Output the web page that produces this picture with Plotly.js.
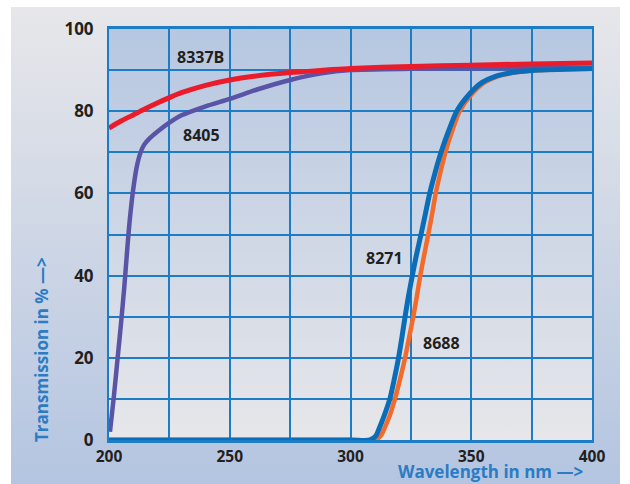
<!DOCTYPE html>
<html>
<head>
<meta charset="utf-8">
<script src="https://cdn.plot.ly/plotly-3.0.1.min.js"></script>
<style>html,body{margin:0;padding:0;background:#fff;}#chart{width:630px;height:484px;}</style>
</head>
<body>
<div id="chart"></div>
<script>
// ---- data ----
const xTickVals = [200, 225, 250, 275, 300, 325, 350, 375, 400];
const xTickText = ['200', '', '250', '', '300', '', '350', '', '400'];
const yTickVals = [0, 10, 20, 30, 40, 50, 60, 70, 80, 90, 100];
const yTickText = ['0', '', '20', '', '40', '', '60', '', '80', '', '100'];

const wl8337B = [200, 205, 210, 215, 220, 225, 230, 240, 250, 260, 275, 290, 300, 325, 350, 375, 400];
const tr8337B = [75.9, 77.6, 79.1, 80.6, 82.0, 83.3, 84.5, 86.3, 87.6, 88.5, 89.4, 90.0, 90.4, 90.9, 91.2, 91.5, 91.7];

const wl8405 = [200.4, 202, 203.5, 205, 206.3, 207.5, 208.5, 209.5, 210.5, 211.5, 212.8, 214.5, 217, 220, 225, 230, 240, 250, 262, 275, 288, 300, 325, 350, 400];
const tr8405 = [2, 10.5, 19.5, 28.5, 37, 46, 53, 58.5, 63, 66.5, 69.5, 71.8, 73.5, 75, 77.2, 79, 81.2, 83, 85.4, 87.6, 89.2, 90, 90.3, 90.4, 90.6];

const wl8271 = [200, 300, 308, 310.5, 312, 314, 316.3, 318.2, 319.9, 321.3, 322.6, 324, 325.6, 327.3, 329.2, 331, 332.8, 335, 337.5, 340.5, 344, 349, 354.5, 360, 367, 378, 400];
const tr8271 = [0, 0, 0, 1, 3, 6, 10, 15, 20, 25, 30, 35, 40, 45, 50, 55, 60, 65, 70, 75, 80, 84, 87, 88.5, 89.4, 90, 90.4];

const wl8688 = [200, 300, 310, 312.5, 314.2, 316.3, 318.4, 320.6, 322.6, 324.3, 326, 327.5, 328.9, 330.5, 332.2, 333.8, 335.3, 337.2, 339.3, 342, 345.2, 350, 355.5, 361, 368, 380, 400];
const tr8688 = [0, 0, 0, 1, 3, 6, 10, 15, 20, 25, 30, 35, 40, 45, 50, 55, 60, 65, 70, 75, 80, 84, 87, 88.5, 89.4, 90, 90.3];

const seriesNames = ['8337B', '8405', '8271', '8688'];
const labelX = [237.7, 238.3, 314.1, 337.6];
const labelY = [93.1, 74.2, 44.2, 23.7];

// ---- layout geometry ----
const W = 630, H = 484;
const M = {l: 109, r: 38, t: 29, b: 44};
const pw = W - M.l - M.r, ph = H - M.t - M.b;
const px2x = p => (p - M.l) / pw;
const py2y = p => (H - M.b - p) / ph;

function grad(top, bottom) {
  const svg = '<svg xmlns="http://www.w3.org/2000/svg" width="100" height="100" viewBox="0 0 100 100" preserveAspectRatio="none">' +
    '<defs><linearGradient id="g" x1="0" y1="0" x2="0" y2="1">' +
    '<stop offset="0" stop-color="' + top + '"/><stop offset="1" stop-color="' + bottom + '"/>' +
    '</linearGradient></defs><rect width="100" height="100" fill="url(#g)"/></svg>';
  return 'data:image/svg+xml;charset=utf-8,' + encodeURIComponent(svg);
}

const gridBlue = '#1c7cc6';
const textDark = '#231f20';
const titleBlue = '#2a7cc4';
const fontFam = '"Open Sans", "DejaVu Sans", sans-serif';

const lineStyle = (c, w) => ({color: c, width: w, shape: 'spline', smoothing: 0.7});
const traces = [
  {x: wl8405, y: tr8405, mode: 'lines', line: lineStyle('#5a54a6', 4.5), name: seriesNames[1]},
  {x: wl8337B, y: tr8337B, mode: 'lines', line: lineStyle('#ea1c2b', 5), name: seriesNames[0]},
  {x: wl8688, y: tr8688, mode: 'lines', line: lineStyle('#f26b2b', 4.5), name: seriesNames[3]},
  {x: wl8271, y: tr8271, mode: 'lines', line: lineStyle('#0b6cb7', 5), name: seriesNames[2]}
];

const annotations = seriesNames.map((n, i) => ({
  x: labelX[i], y: labelY[i], xref: 'x', yref: 'y', text: n, showarrow: false,
  font: {family: fontFam, size: 16, color: textDark, weight: 'bold'}, xanchor: 'center', yanchor: 'middle'
}));
annotations.push({
  x: px2x(41), y: py2y(350), xref: 'paper', yref: 'paper', text: 'Transmission in % —>', showarrow: false,
  textangle: -90, xanchor: 'center', yanchor: 'middle',
  font: {family: fontFam, size: 17, color: titleBlue, weight: 'bold'}
});
annotations.push({
  x: px2x(490), y: py2y(472), xref: 'paper', yref: 'paper', text: 'Wavelength in nm —>', showarrow: false,
  xanchor: 'center', yanchor: 'middle', borderpad: 0,
  font: {family: fontFam, size: 17, color: titleBlue, weight: 'bold'}
});

const layout = {
  width: W, height: H,
  margin: M,
  paper_bgcolor: '#ffffff',
  plot_bgcolor: 'rgba(0,0,0,0)',
  showlegend: false,
  font: {family: fontFam, color: textDark},
  xaxis: {
    range: [200, 400], tickmode: 'array', tickvals: xTickVals, ticktext: xTickText,
    showgrid: true, gridcolor: gridBlue, gridwidth: 2, zeroline: false,
    showline: true, linecolor: gridBlue, linewidth: 3, mirror: true,
    ticks: '', ticklen: 0, tickfont: {family: fontFam, size: 15.5, color: textDark, weight: 'bold'},
    fixedrange: true
  },
  yaxis: {
    range: [0, 100], tickmode: 'array', tickvals: yTickVals, ticktext: yTickText,
    showgrid: true, gridcolor: gridBlue, gridwidth: 2, zeroline: false,
    showline: true, linecolor: gridBlue, linewidth: 2, mirror: true,
    ticks: '', ticklabelstandoff: 10, tickfont: {family: fontFam, size: 17, color: textDark, weight: 'bold'},
    fixedrange: true
  },
  images: [
    {source: grad('#e7e7ea', '#b4c5e1'), xref: 'paper', yref: 'paper',
     x: px2x(11), y: py2y(7), sizex: px2x(620) - px2x(11), sizey: py2y(7) - py2y(H),
     xanchor: 'left', yanchor: 'top', sizing: 'stretch', layer: 'below'},
    {source: grad('#b6c7e1', '#e7e7ea'), xref: 'x', yref: 'y',
     x: 200, y: 100, sizex: 200, sizey: 100,
     xanchor: 'left', yanchor: 'top', sizing: 'stretch', layer: 'below'}
  ],
  annotations: annotations
};

Plotly.newPlot('chart', traces, layout, {displayModeBar: false, staticPlot: true});
</script>
</body>
</html>
